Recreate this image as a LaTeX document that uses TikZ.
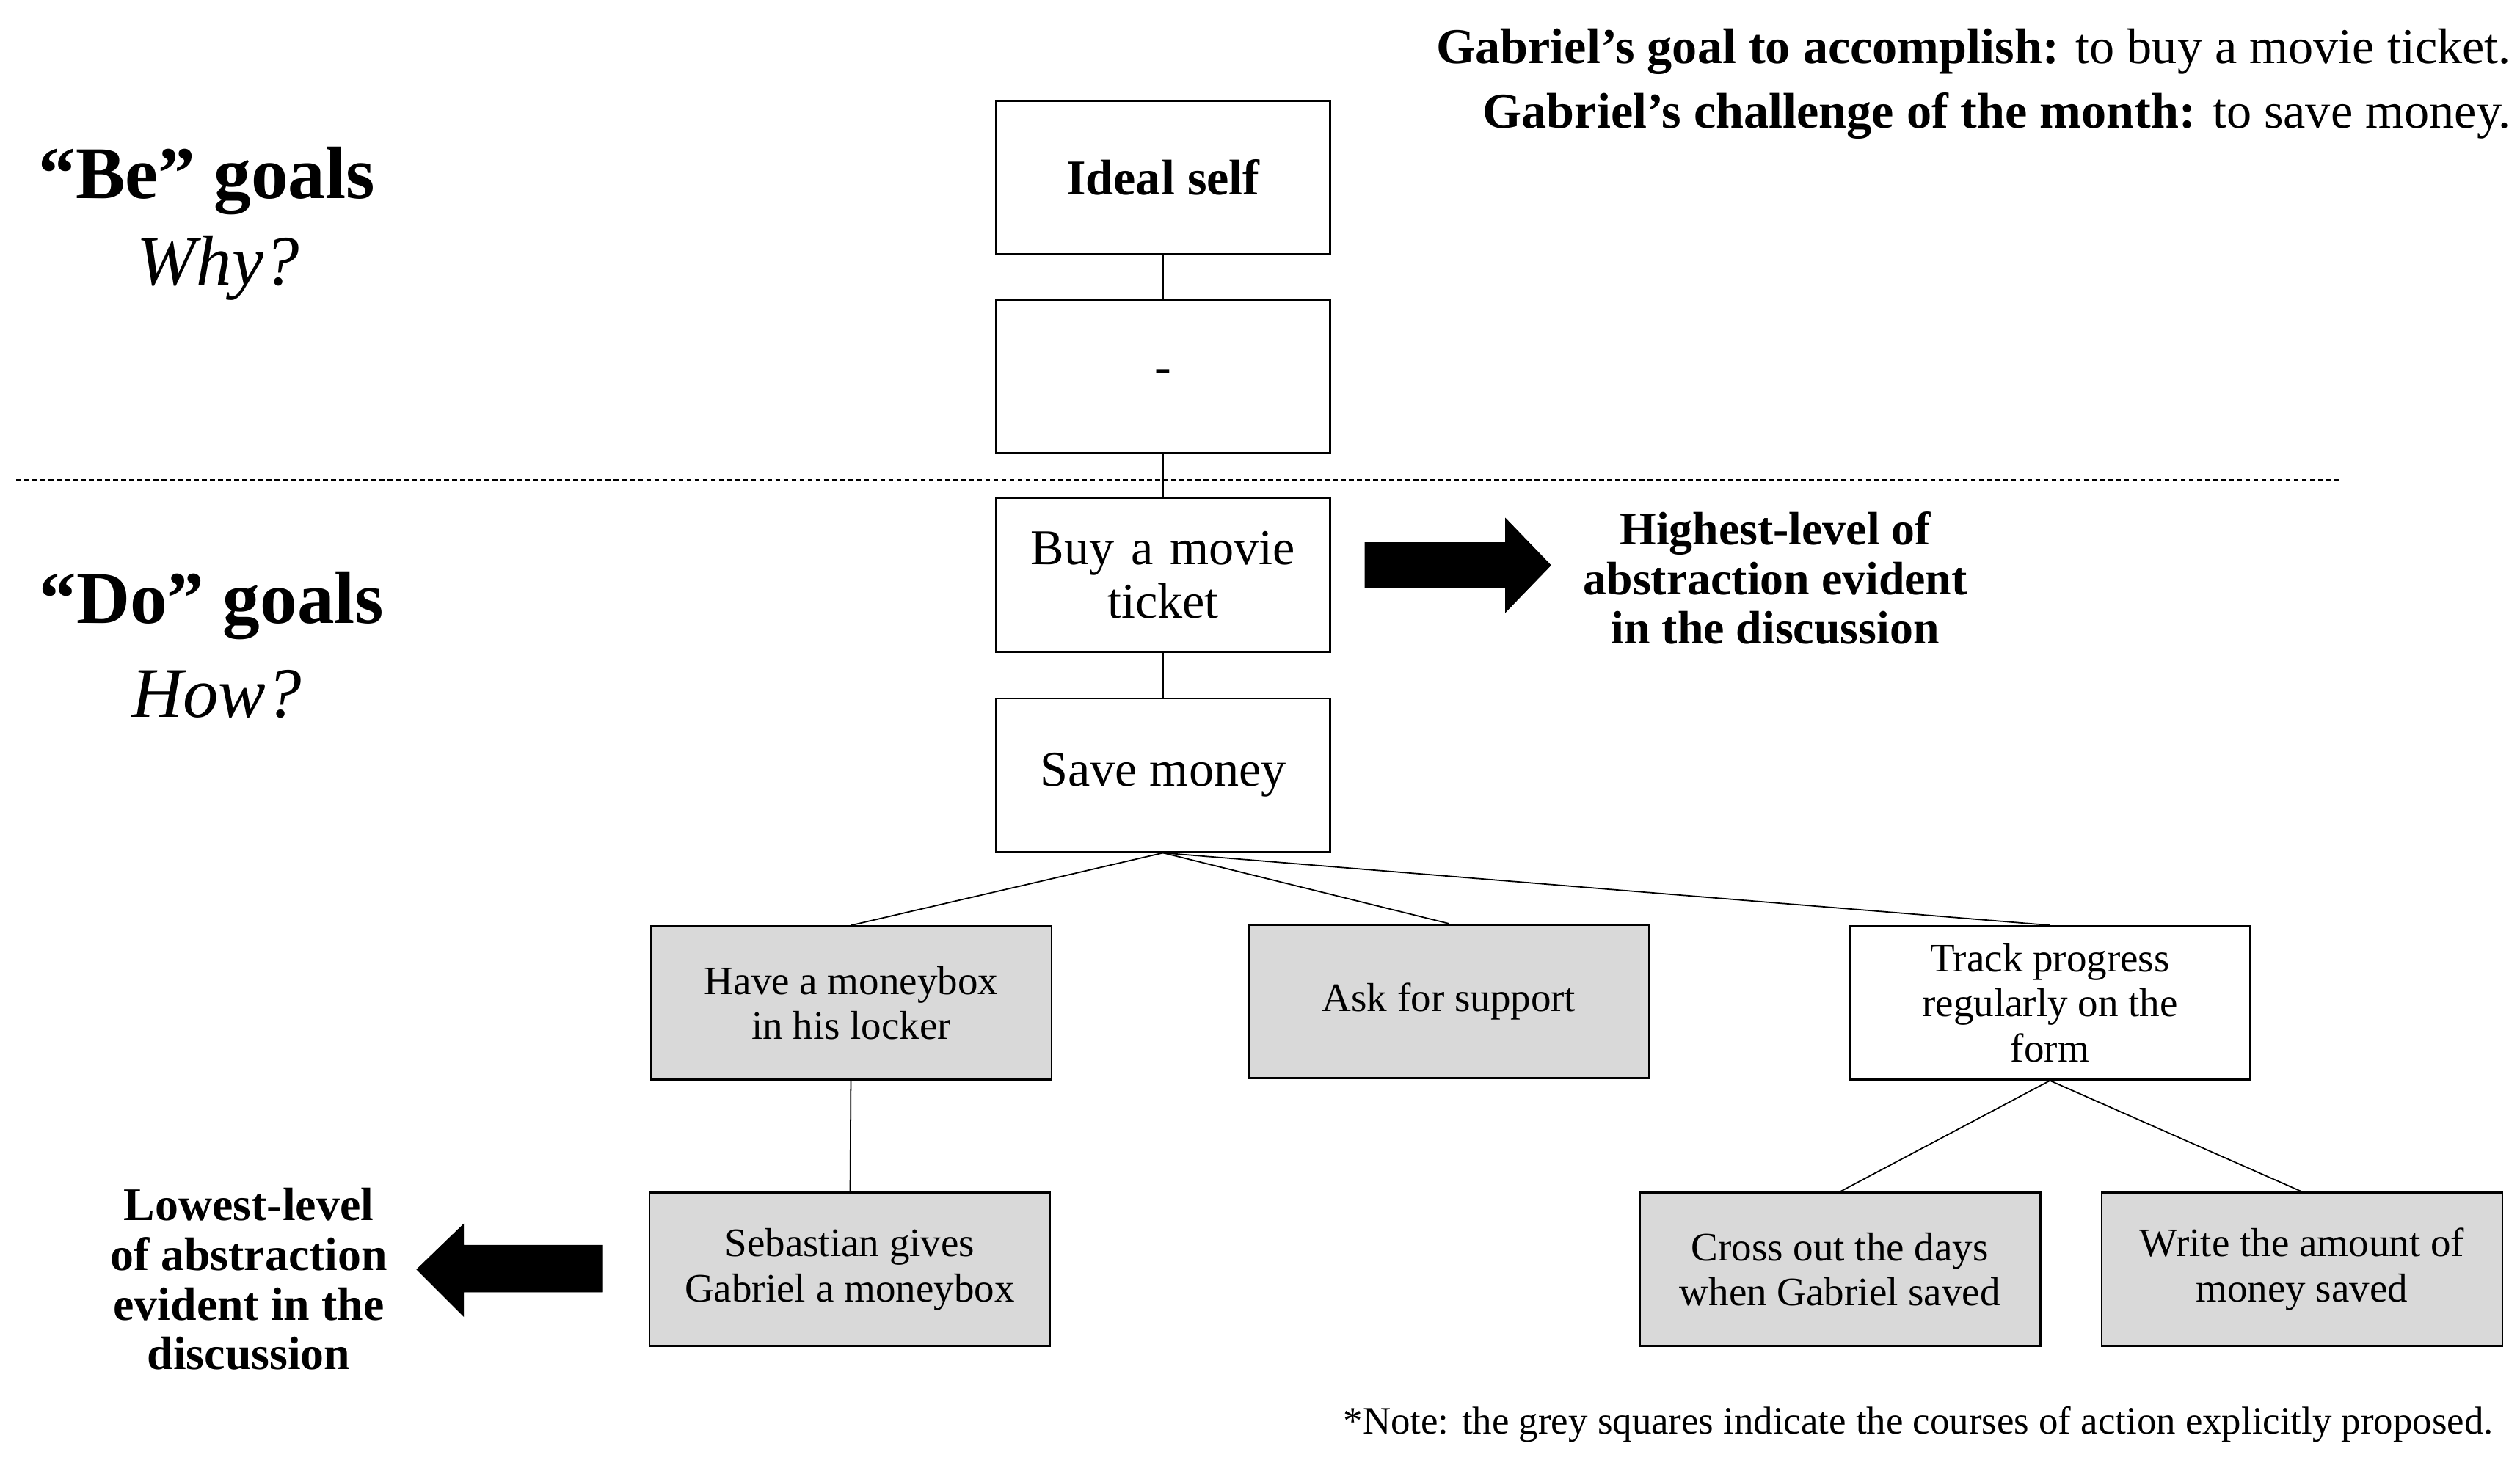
\documentclass[tikz,border=0pt]{standalone}
\usepackage{fontspec}
\setmainfont{Liberation Serif}
\usepackage{tikz}
\usetikzlibrary{positioning}
\definecolor{boxgrey}{RGB}{217,217,217}
\newcommand{\fs}[1]{\fontsize{#1}{\fpeval{#1*1.2}}\selectfont}
\tikzset{
  bigbox/.style={draw, line width=1.2pt, minimum width=207pt, minimum height=95pt, align=center, font=\fs{31}},
  smallbox/.style={draw, line width=1.2pt, minimum width=248pt, minimum height=95pt, align=center, font=\fs{25}, inner sep=2pt},
  greybox/.style={smallbox, fill=boxgrey},
  link/.style={line width=0.8pt},
  fatarrow/.style={fill=black}
}
\begin{document}
\begin{tikzpicture}[x=1pt,y=-1pt]
\useasboundingbox (0,0) rectangle (1560,904);

% stack of goals
\node [bigbox, font=\bfseries\fs{31}] (ideal) at (720,110) {Ideal self};
\node [bigbox] (dash) at (720,233) {-};
\node [bigbox, text width=200pt] (ticket) at (720,356) {Buy a movie\\[-4pt] ticket};
\node [bigbox] (save) at (720,480) {Save money};

% courses of action
\node [greybox] (moneybox) at (527,621) {Have a moneybox\\[-2pt] in his locker};
\node [greybox] (support) at (897,620) {Ask for support};
\node [smallbox] (track) at (1269,621) {Track progress\\[-2pt] regularly on the\\[-2pt] form};
\node [greybox] (sebastian) at (526,786) {Sebastian gives\\[-2pt] Gabriel a moneybox};
\node [greybox] (cross) at (1139,786) {Cross out the days\\[-2pt] when Gabriel saved};
\node [greybox] (amount) at (1425,786) {Write the amount of\\[-2pt] money saved};

% connectors
\draw [link] (ideal) -- (dash);
\draw [link] (dash) -- (ticket);
\draw [link] (ticket) -- (save);
\draw [link] (save.south) -- (moneybox.north);
\draw [link] (save.south) -- (support.north);
\draw [link] (save.south) -- (track.north);
\draw [link] (moneybox) -- (sebastian);
\draw [link] (track.south) -- (cross.north);
\draw [link] (track.south) -- (amount.north);

% be / do separator
\draw [dash pattern={on 3pt off 2pt}, line width=0.8pt] (10,297) -- (1448,297);

% side labels
\node [font=\bfseries\fs{46}] (be) at (128,112) {“Be” goals};
\node [font=\itshape\fs{44}] (why) at (135,166) {Why?};
\node [font=\bfseries\fs{46}] (do) at (131,375) {“Do” goals};
\node [font=\itshape\fs{44}] (how) at (134,430) {How?};

% arrows
\draw [fatarrow] (845,336) -- (932,336) -- (932,321) -- (960,350) -- (932,379) -- (932,364) -- (845,364) -- cycle;
\node [font=\bfseries\fs{29}, align=center] (highest) at (1099,358) {Highest-level of\\[-4pt] abstraction evident\\[-4pt] in the discussion};
\draw [fatarrow] (373,771) -- (287,771) -- (287,758) -- (258,786) -- (287,815) -- (287,800) -- (373,800) -- cycle;
\node [font=\bfseries\fs{29}, align=center] (lowest) at (154,792) {Lowest-level\\[-4pt] of abstraction\\[-4pt] evident in the\\[-4pt] discussion};

% notes
\node [font=\fs{31}, anchor=east] (goalnote) at (1558,32) {\textbf{Gabriel’s goal to accomplish:} to buy a movie ticket.};
\node [font=\fs{31}, anchor=east] (challenge) at (1558,72) {\textbf{Gabriel’s challenge of the month:} to save money.};
\node [font=\fs{24}, anchor=east] (note) at (1547,882) {*Note: the grey squares indicate the courses of action explicitly proposed.};
\end{tikzpicture}
\end{document}
